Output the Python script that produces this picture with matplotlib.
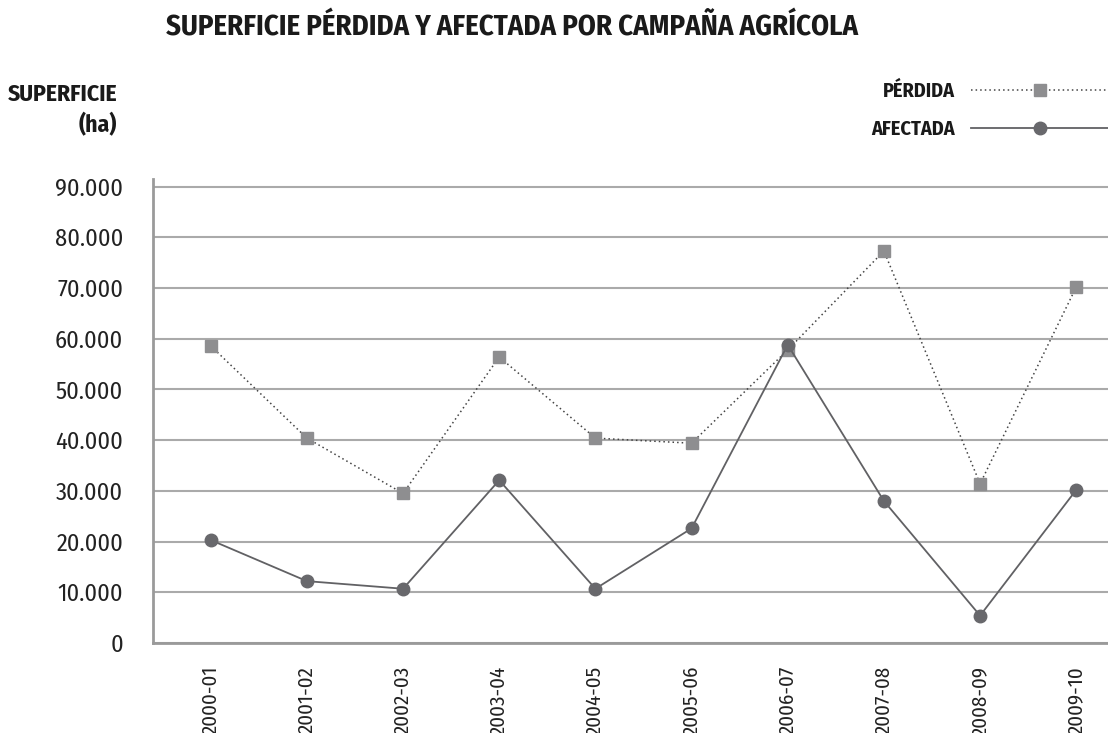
import matplotlib
matplotlib.use("Agg")
import matplotlib.pyplot as plt
from matplotlib.ticker import FuncFormatter

# campañas agrícolas y superficie (ha)
campanas = ["2000-01", "2001-02", "2002-03", "2003-04", "2004-05",
            "2005-06", "2006-07", "2007-08", "2008-09", "2009-10"]
perdida = [58600, 40400, 29500, 56400, 40400, 39400, 57800, 77300, 31400, 70200]
afectada = [20300, 12200, 10700, 32100, 10700, 22600, 58800, 28000, 5400, 30200]
y_ticks = [0, 10000, 20000, 30000, 40000, 50000, 60000, 70000, 80000, 90000]

cond_font = ['Fira Sans Condensed', 'Open Sans Condensed', 'DejaVu Sans']
plt.rcParams['font.family'] = cond_font

fig = plt.figure(figsize=(11.08, 7.33), dpi=100)
ax = fig.add_axes([153 / 1108, 1 - 643 / 733, 1 - 153 / 1108, (643 - 179) / 733])

x = list(range(len(campanas)))
ax.plot(x, perdida, color='#444444', lw=1.1, linestyle=(0, (1, 2)),
        marker='s', markersize=9, markerfacecolor='#8e8e90',
        markeredgecolor='#8e8e90', label='PÉRDIDA', zorder=3)
ax.plot(x, afectada, color='#616164', lw=1.3, linestyle='-',
        marker='o', markersize=9, markerfacecolor='#68686c',
        markeredgecolor='#68686c', label='AFECTADA', zorder=3)

ax.set_xlim(-0.6, 9.33)
ax.set_ylim(0, 91500)
ax.set_xticks(x)
ax.set_xticklabels(campanas, rotation=90, va='top', ha='center', fontsize=15)
ax.set_yticks(y_ticks)
ax.yaxis.set_major_formatter(FuncFormatter(lambda v, p: f"{v:,.0f}".replace(",", ".")))
ax.tick_params(axis='both', length=0, colors='#222222')
ax.tick_params(axis='y', pad=21.5, labelsize=17.5)
ax.tick_params(axis='x', pad=16.5)

ax.grid(axis='y', color='#aaaaaa', lw=1.5)
ax.set_axisbelow(True)
for side in ['top', 'right']:
    ax.spines[side].set_visible(False)
for side in ['left', 'bottom']:
    ax.spines[side].set_color('#9a9a9a')
    ax.spines[side].set_linewidth(2)

fig.text(512 / 1108, 1 - 28 / 733, "SUPERFICIE PÉRDIDA Y AFECTADA POR CAMPAÑA AGRÍCOLA",
         ha='center', va='center', fontsize=20.7, fontweight='bold', color='#1a1a1a')
fig.text(117 / 1108, 1 - 94 / 733, "SUPERFICIE", ha='right', va='center',
         fontsize=17, fontweight='bold', color='#1a1a1a')
fig.text(117 / 1108, 1 - 125 / 733, "(ha)", ha='right', va='center',
         fontsize=17, fontweight='bold', color='#1a1a1a')

leg = ax.legend(loc='upper right', bbox_to_anchor=(1.0, 1 - 82 / 733),
                bbox_transform=fig.transFigure, frameon=False, markerfirst=False,
                numpoints=1, handlelength=6.8, handletextpad=0.8, labelspacing=0.9,
                borderaxespad=0, borderpad=0,
                prop={'weight': 'bold', 'size': 14.5})
for t in leg.get_texts():
    t.set_color('#1a1a1a')

fig.savefig("out.png", dpi=100)
